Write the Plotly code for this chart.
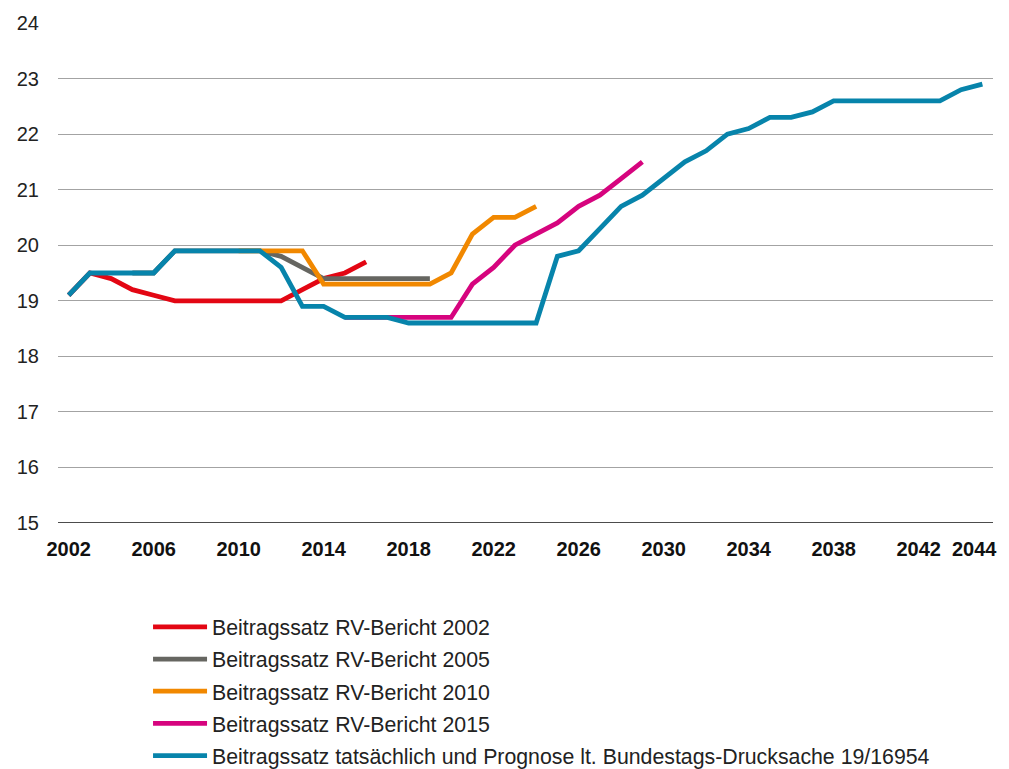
import plotly.graph_objects as go

# ---- data ----
years_red = list(range(2002, 2017))
red = [19.1, 19.5, 19.4, 19.2, 19.1, 19.0, 19.0, 19.0, 19.0, 19.0, 19.0, 19.2, 19.4, 19.5, 19.7]

years_gray = list(range(2005, 2020))
gray = [19.5, 19.5, 19.9, 19.9, 19.9, 19.9, 19.9, 19.8, 19.6, 19.4, 19.4, 19.4, 19.4, 19.4, 19.4]

years_orange = list(range(2010, 2025))
orange = [19.9, 19.9, 19.9, 19.9, 19.3, 19.3, 19.3, 19.3, 19.3, 19.3, 19.5, 20.2, 20.5, 20.5, 20.7]

years_pink = list(range(2015, 2030))
pink = [18.7, 18.7, 18.7, 18.7, 18.7, 18.7, 19.3, 19.6, 20.0, 20.2, 20.4, 20.7, 20.9, 21.2, 21.5]

years_blue = list(range(2002, 2046))
blue = [19.1, 19.5, 19.5, 19.5, 19.5, 19.9, 19.9, 19.9, 19.9, 19.9,
        19.6, 18.9, 18.9, 18.7, 18.7, 18.7, 18.6, 18.6, 18.6, 18.6,
        18.6, 18.6, 18.6, 19.8, 19.9, 20.3, 20.7, 20.9, 21.2, 21.5,
        21.7, 22.0, 22.1, 22.3, 22.3, 22.4, 22.6, 22.6, 22.6, 22.6,
        22.6, 22.6, 22.8, 22.9]

names = ["Beitragssatz RV-Bericht 2002",
         "Beitragssatz RV-Bericht 2005",
         "Beitragssatz RV-Bericht 2010",
         "Beitragssatz RV-Bericht 2015",
         "Beitragssatz tatsächlich und Prognose lt. Bundestags-Drucksache 19/16954"]
colors = ["#e30613", "#666661", "#f18800", "#d6047e", "#0784ab"]

x_ticks = list(range(2002, 2043, 4))
x_tick_last = 2044
y_ticks = list(range(15, 25))

series = [(years_red, red), (years_gray, gray), (years_orange, orange),
          (years_pink, pink), (years_blue, blue)]

fig = go.Figure()
for i, ((xs, ys), nm, col) in enumerate(zip(series, names, colors)):
    fig.add_trace(go.Scatter(x=xs, y=ys, mode="lines", name=nm,
                             legendgroup=f"g{i}",
                             line=dict(color=col, width=4.8)))

FONT = "Liberation Sans, Arial, sans-serif"
XTICKFONT = dict(size=20, family=FONT, color="#111111", weight="bold")

fig.update_layout(
    width=1009, height=769,
    margin=dict(l=58, r=16, t=23, b=246, autoexpand=False),
    paper_bgcolor="white", plot_bgcolor="white",
    font=dict(family=FONT, color="#222222"),
    showlegend=True,
    legend=dict(x=0.0963, y=-0.167, xanchor="left", yanchor="top",
                font=dict(size=21.3, family=FONT, color="#222222"),
                itemwidth=54,
                tracegroupgap=1.5, bgcolor="rgba(0,0,0,0)"),
    xaxis=dict(range=[2001.5, 2045.5], tickvals=x_ticks,
               ticktext=[str(t) for t in x_ticks],
               showgrid=False, zeroline=False, showline=False,
               ticks="", tickfont=XTICKFONT,
               ticklabelstandoff=12),
    yaxis=dict(range=[15, 24], tickvals=y_ticks,
               showgrid=True, gridcolor="#a3a3a3", gridwidth=1.3,
               zeroline=False, showline=False, ticks="",
               tickfont=dict(size=20, family=FONT, color="#222222"),
               ticklabelstandoff=18),
)

# last category label, placed at its year with a small offset like the original
fig.add_annotation(x=x_tick_last, y=0, xref="x", yref="paper",
                   text=str(x_tick_last), showarrow=False,
                   xanchor="center", yanchor="top", xshift=13, yshift=-13,
                   font=XTICKFONT)

# solid baseline at 15
fig.add_hline(y=15, line=dict(color="#111111", width=1.6))

fig.write_html("out.html", config={"displayModeBar": False},
               post_script="document.body.style.margin='0';")
